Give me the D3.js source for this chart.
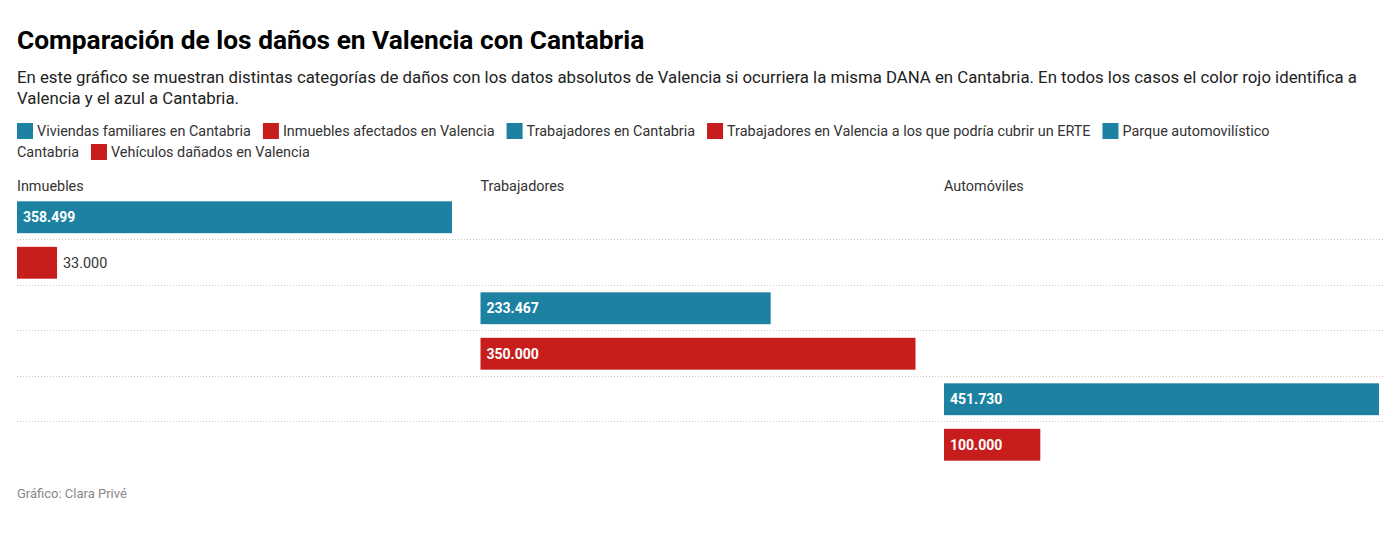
<!DOCTYPE html>
<html><head><meta charset="utf-8">
<script src="https://cdn.jsdelivr.net/npm/d3@7"></script>
<style>
html,body{margin:0;padding:0;background:#fff;}
svg{display:block;font-family:Roboto,"Noto Sans",sans-serif;}
</style></head>
<body>
<svg id="chart" width="1396" height="541"></svg>
<script>
const title = "Comparación de los daños en Valencia con Cantabria";
const descLines = [
  "En este gráfico se muestran distintas categorías de daños con los datos absolutos de Valencia si ocurriera la misma DANA en Cantabria. En todos los casos el color rojo identifica a",
  "Valencia y el azul a Cantabria."
];
const categories = [
  "Viviendas familiares en Cantabria",
  "Inmuebles afectados en Valencia",
  "Trabajadores en Cantabria",
  "Trabajadores en Valencia a los que podría cubrir un ERTE",
  "Parque automovilístico Cantabria",
  "Vehículos dañados en Valencia"
];
const categoryColors = ["#1d81a2","#c71e1d","#1d81a2","#c71e1d","#1d81a2","#c71e1d"];
const columns = ["Inmuebles","Trabajadores","Automóviles"];
const inmuebles    = [358499, 33000, null, null, null, null];
const trabajadores = [null, null, 233467, 350000, null, null];
const automoviles  = [null, null, null, null, 451730, 100000];
const footer = "Gráfico: Clara Privé";

const seriesByColumn = [inmuebles, trabajadores, automoviles];
const svg = d3.select("#chart");
const left = 17, fullRight = 1383;
const fs = 14.4;
const fmt = v => d3.format(",")(v).replace(/,/g, ".");

svg.append("text").attr("x", left).attr("y", 48.5)
  .attr("font-size", 26.3).attr("font-weight", 700).attr("fill", "#000").text(title);

descLines.forEach((l, i) => {
  svg.append("text").attr("x", left).attr("y", 83 + i * 20.5)
    .attr("font-size", 16.8).attr("fill", "#222").text(l);
});

// Legend with word flow
const legendMaxX = 1300;
const lg = svg.append("g");
let lx = left, ly = 131;
const lineH = 21;
const measure = (txt, size) => {
  const t = lg.append("text").attr("font-size", size).text(txt);
  const w = t.node().getComputedTextLength(); t.remove(); return w;
};
categories.forEach((c, i) => {
  if (lx + 20 + measure(c.split(" ")[0], fs) > legendMaxX) { lx = left; ly += lineH; }
  lg.append("rect").attr("x", lx).attr("y", ly - 8).attr("width", 16).attr("height", 16)
    .attr("fill", categoryColors[i]);
  lx += 20;
  const words = c.split(" ");
  let cur = "";
  let startX = lx;
  words.forEach(w => {
    const trial = cur ? cur + " " + w : w;
    if (startX + measure(trial, fs) > legendMaxX && cur) {
      lg.append("text").attr("x", startX).attr("y", ly).attr("dy", "0.35em")
        .attr("font-size", fs).attr("fill", "#333").text(cur);
      ly += lineH; startX = left; cur = w;
    } else cur = trial;
  });
  lg.append("text").attr("x", startX).attr("y", ly).attr("dy", "0.35em")
    .attr("font-size", fs).attr("fill", "#333").text(cur);
  lx = startX + measure(cur, fs) + 12;
});

// Chart
const colWidth = 435, colGap = 28.5;
const colX = columns.map((c, i) => left + i * (colWidth + colGap));
const y = d3.scaleBand().domain(categories).range([194.5, 467.5]).paddingInner(0.3).paddingOuter(0.15);

columns.forEach((c, i) => {
  svg.append("text").attr("x", colX[i]).attr("y", 186).attr("dy", "0.35em")
    .attr("font-size", fs).attr("fill", "#333").text(c);
});

// separators
const seps = categories.slice(0, -1);
const sepY = d => Math.round(y(d) + y.bandwidth() + y.step() * y.paddingInner() / 2) - 0.5;
svg.append("g").selectAll("line").data(seps).join("line")
  .attr("x1", left).attr("x2", fullRight)
  .attr("y1", sepY).attr("y2", sepY)
  .attr("stroke", "#c8c8c8").attr("stroke-width", 1).attr("stroke-dasharray", "1,2");

seriesByColumn.forEach((vals, ci) => {
  const x = d3.scaleLinear().domain([0, d3.max(vals)]).range([0, colWidth]);
  const data = categories.map((c, i) => ({c, v: vals[i], color: categoryColors[i]})).filter(d => d.v != null);
  const g = svg.append("g").attr("transform", `translate(${colX[ci]},0)`);
  g.selectAll("rect").data(data).join("rect")
    .attr("x", 0).attr("y", d => y(d.c)).attr("width", d => x(d.v)).attr("height", y.bandwidth())
    .attr("fill", d => d.color);
  g.selectAll("text").data(data).join("text")
    .each(function(d) {
      const inside = x(d.v) > 80;
      const t = d3.select(this).text(fmt(d.v)).attr("font-size", inside ? 14 : fs);
      t.attr("x", inside ? 6 : x(d.v) + 6)
       .attr("y", y(d.c) + y.bandwidth() / 2).attr("dy", "0.35em")
       .attr("font-weight", inside ? 700 : 400)
       .attr("fill", inside ? "#fff" : "#333");
    });
});

svg.append("text").attr("x", left).attr("y", 493).attr("dy", "0.35em")
  .attr("font-size", 13).attr("fill", "#888").text(footer);
</script>
</body></html>
